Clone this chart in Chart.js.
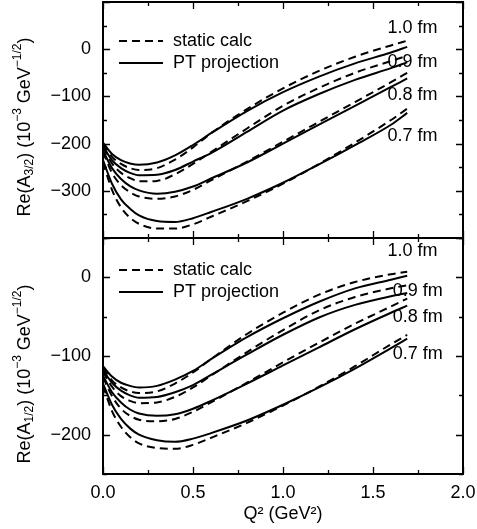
<!DOCTYPE html>
<html>
<head>
<meta charset="utf-8">
<script src="https://cdn.jsdelivr.net/npm/chart.js@4.4.0/dist/chart.umd.min.js"></script>
<style>
  html, body { margin: 0; padding: 0; background: #fff; }
  #wrap { position: relative; width: 477px; height: 529px; }
  canvas { position: absolute; left: 0; top: 0; }
</style>
</head>
<body>
<div id="wrap">
  <canvas id="topChart" width="477" height="529"></canvas>
  <canvas id="bottomChart" width="477" height="529"></canvas>
</div>
<script>
// Q^2 sample points (GeV^2)
const q2 = [0, 0.05, 0.1, 0.15, 0.2, 0.3, 0.4, 0.5, 0.6, 0.8, 1.0, 1.2, 1.4, 1.6, 1.69];
const radii = ['1.0 fm', '0.9 fm', '0.8 fm', '0.7 fm'];

// Re(A3/2), static calc (dashed)
const a32Static10 = [-200, -228, -243, -252, -256, -252, -234, -208, -178, -127, -83, -46, -16, 8, 18];
const a32Static09 = [-208, -242, -262, -273, -280, -279, -265, -243, -218, -168, -120, -82, -50, -25, -14];
const a32Static08 = [-218, -262, -288, -303, -312, -317, -312, -298, -278, -238, -196, -154, -112, -70, -50];
const a32Static07 = [-240, -298, -335, -357, -370, -380, -380, -371, -355, -322, -285, -243, -198, -150, -126];
// Re(A3/2), PT projection (solid)
const a32Pt10 = [-198, -222, -235, -242, -245, -240, -225, -203, -178, -131, -91, -58, -30, -7, 5];
const a32Pt09 = [-205, -235, -252, -262, -267, -266, -256, -238, -220, -175, -130, -95, -65, -40, -28];
const a32Pt08 = [-215, -252, -275, -290, -299, -306, -302, -291, -274, -240, -200, -160, -120, -80, -62];
const a32Pt07 = [-235, -285, -318, -338, -352, -364, -366, -358, -345, -317, -283, -244, -203, -160, -135];

// Re(A1/2), static calc (dashed)
const a12Static10 = [-115, -131, -140, -145, -147, -145, -135, -121, -104, -72, -45, -22, -6, 4, 7];
const a12Static09 = [-120, -139, -151, -157, -160, -159, -152, -140, -125, -95, -67, -42, -25, -14, -10];
const a12Static08 = [-127, -151, -167, -176, -181, -183, -180, -171, -159, -134, -108, -83, -59, -37, -27];
const a12Static07 = [-138, -170, -190, -203, -211, -217, -218, -213, -204, -185, -163, -139, -113, -85, -73];
// Re(A1/2), PT projection (solid)
const a12Pt10 = [-113, -126, -134, -138, -140, -138, -130, -119, -104, -76, -52, -31, -14, -3, 2];
const a12Pt09 = [-118, -134, -144, -150, -153, -152, -146, -137, -124, -98, -73, -51, -35, -24, -20];
const a12Pt08 = [-125, -146, -159, -168, -173, -176, -174, -167, -157, -135, -112, -89, -66, -45, -36];
const a12Pt07 = [-135, -162, -180, -192, -200, -207, -209, -205, -198, -182, -162, -140, -116, -90, -78];

const xTicks = [0, 0.5, 1.0, 1.5, 2.0];
const FONT = 'Liberation Sans, Arial, Helvetica, sans-serif';

function pts(ys) {
  return ys.map((y, i) => ({ x: q2[i], y: y }));
}
function series(staticSets, ptSets) {
  const out = [];
  staticSets.forEach((s, i) => out.push({ label: 'static calc ' + radii[i], data: pts(s), borderDash: [8, 5] }));
  ptSets.forEach((s, i) => out.push({ label: 'PT projection ' + radii[i], data: pts(s), borderDash: [] }));
  return out;
}
function fmt(v) {
  return v < 0 ? '\u2212' + Math.abs(v) : String(v);
}

// frame, inward ticks on all sides, y-title, legend and radius labels
const decor = {
  id: 'decor',
  afterDraw(chart, args, o) {
    const ctx = chart.ctx;
    const a = chart.chartArea;
    const xs = chart.scales.x, ys = chart.scales.y;
    ctx.save();
    ctx.strokeStyle = '#000';
    ctx.lineWidth = 2;
    ctx.strokeRect(a.left, a.top, a.right - a.left, a.bottom - a.top);
    ctx.lineWidth = 1.3;
    ctx.beginPath();
    for (let v = 0; v <= 2.0001; v += 0.25) {
      const px = Math.round(xs.getPixelForValue(v)) + 0.5;
      const len = (Math.abs(v * 2 - Math.round(v * 2)) < 1e-6) ? 7 : 4;
      ctx.moveTo(px, a.bottom); ctx.lineTo(px, a.bottom - len);
      ctx.moveTo(px, a.top); ctx.lineTo(px, a.top + len);
    }
    for (let v = ys.min; v <= ys.max + 0.001; v += 50) {
      const py = Math.round(ys.getPixelForValue(v)) + 0.5;
      const len = (v % 100 === 0) ? 7 : 4;
      ctx.moveTo(a.left, py); ctx.lineTo(a.left + len, py);
      ctx.moveTo(a.right, py); ctx.lineTo(a.right - len, py);
    }
    ctx.stroke();

    // legend
    ctx.lineWidth = 2;
    ctx.fillStyle = '#000';
    ctx.font = '18px ' + FONT;
    ctx.textBaseline = 'middle';
    ctx.textAlign = 'left';
    const lx = a.left + 16, ly = a.top + o.legendTop;
    ctx.setLineDash([8, 5]);
    ctx.beginPath(); ctx.moveTo(lx, ly); ctx.lineTo(lx + 44, ly); ctx.stroke();
    ctx.setLineDash([]);
    ctx.beginPath(); ctx.moveTo(lx, ly + 22); ctx.lineTo(lx + 44, ly + 22); ctx.stroke();
    ctx.fillText('static calc', lx + 54, ly);
    ctx.fillText('PT projection', lx + 54, ly + 22);

    // radius labels
    o.radiusLabels.forEach((p, i) => {
      ctx.fillText(radii[i], xs.getPixelForValue(p[0]), ys.getPixelForValue(p[1]));
    });

    // y title with sub/superscripts
    const parts = o.title;
    const big = '18px ' + FONT, small = '12px ' + FONT;
    let total = 0;
    parts.forEach(p => { ctx.font = p[1] ? small : big; total += ctx.measureText(p[0]).width; });
    ctx.translate(25, (a.top + a.bottom) / 2 + o.titleShift);
    ctx.rotate(-Math.PI / 2);
    let x = -total / 2;
    parts.forEach(p => {
      ctx.font = p[1] ? small : big;
      const dy = p[1] === 'sub' ? 5 : (p[1] === 'sup' ? -7 : 0);
      ctx.fillText(p[0], x, dy);
      x += ctx.measureText(p[0]).width;
    });
    ctx.restore();
  }
};

function makeChart(id, datasets, yMin, yMax, showX, pad, decorOpts) {
  return new Chart(document.getElementById(id).getContext('2d'), {
    type: 'line',
    data: { datasets: datasets },
    options: {
      responsive: false,
      animation: false,
      devicePixelRatio: 1,
      layout: { padding: pad },
      elements: {
        line: { borderColor: '#000', borderWidth: 2, cubicInterpolationMode: 'monotone', fill: false },
        point: { radius: 0 }
      },
      plugins: { legend: { display: false }, tooltip: { enabled: false }, decor: decorOpts },
      scales: {
        x: {
          type: 'linear', min: 0, max: 2,
          display: showX,
          grid: { display: false, drawTicks: false },
          border: { display: false },
          afterBuildTicks: s => { s.ticks = xTicks.map(v => ({ value: v })); },
          afterFit: s => {
            if (showX) s.height = 55; else s.height = 0;
            s.paddingLeft = 0; s.paddingRight = 0;
          },
          ticks: { color: '#000', font: { size: 18, family: FONT }, padding: 8, maxRotation: 0,
                   callback: v => v.toFixed(1) },
          title: { display: true, text: 'Q\u00B2 (GeV\u00B2)', color: '#000',
                   font: { size: 18, family: FONT }, padding: { top: 0, bottom: 4 } }
        },
        y: {
          min: yMin, max: yMax,
          grid: { display: false, drawTicks: false },
          border: { display: false },
          afterFit: s => { s.width = 103; s.paddingTop = 0; s.paddingBottom = 0; },
          ticks: { stepSize: 50, color: '#000', font: { size: 18, family: FONT }, padding: 12,
                   callback: v => (v % 100 === 0 && v !== yMax && v !== yMin) ? fmt(v) : '' }
        }
      }
    },
    plugins: [decor]
  });
}

makeChart('topChart',
  series([a32Static10, a32Static09, a32Static08, a32Static07], [a32Pt10, a32Pt09, a32Pt08, a32Pt07]),
  -400, 100, false, { top: 2, right: 14, bottom: 291, left: 0 },
  {
    legendTop: 39,
    titleShift: 7,
    radiusLabels: [[1.58, 45], [1.58, -28], [1.58, -98], [1.58, -183]],
    title: [['Re(A', null], ['3/2', 'sub'], [') (10', null], ['\u22123', 'sup'], [' GeV', null], ['\u22121/2', 'sup'], [')', null]]
  });

makeChart('bottomChart',
  series([a12Static10, a12Static09, a12Static08, a12Static07], [a12Pt10, a12Pt09, a12Pt08, a12Pt07]),
  -250, 50, true, { top: 238, right: 14, bottom: 0, left: 0 },
  {
    legendTop: 32,
    titleShift: 18,
    radiusLabels: [[1.58, 33], [1.61, -18], [1.61, -51], [1.61, -97]],
    title: [['Re(A', null], ['1/2', 'sub'], [') (10', null], ['\u22123', 'sup'], [' GeV', null], ['\u22121/2', 'sup'], [')', null]]
  });
</script>
</body>
</html>
